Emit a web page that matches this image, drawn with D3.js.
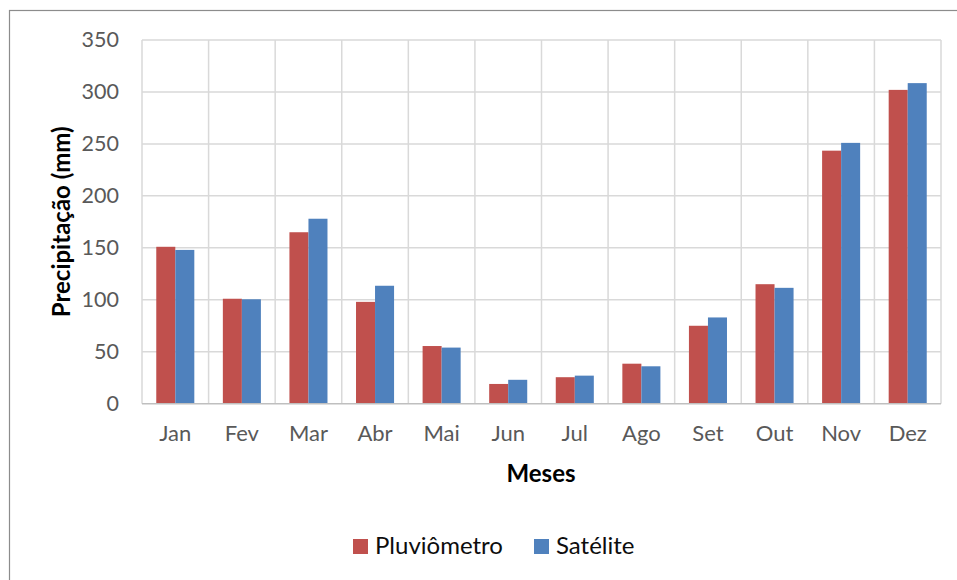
<!DOCTYPE html>
<html>
<head>
<meta charset="utf-8">
<script src="https://cdn.jsdelivr.net/npm/d3@7"></script>
<style>
  html, body { margin: 0; padding: 0; background: #fff; }
  svg { display: block; }
  text { font-family: Lato, "Open Sans", sans-serif; }
</style>
</head>
<body>
<svg id="chart" width="957" height="580"></svg>
<script>
// Monthly precipitation: rain gauge vs. satellite estimate
const months = ["Jan", "Fev", "Mar", "Abr", "Mai", "Jun", "Jul", "Ago", "Set", "Out", "Nov", "Dez"];
const pluviometro = [151, 101, 165, 98, 55.5, 19, 25.5, 38.5, 75, 115, 243.5, 302];
const satelite = [148, 100.5, 178, 113.5, 54, 23, 27, 36, 83, 111.5, 251, 308.5];
const seriesNames = ["Pluviômetro", "Satélite"];
const seriesColors = ["#C0504D", "#4F81BD"];
const yTicks = [0, 50, 100, 150, 200, 250, 300, 350];

const svg = d3.select("#chart");
const plot = { left: 142, right: 941, top: 40, bottom: 403.7 };

// chart area frame
svg.append("rect")
  .attr("x", 9.5).attr("y", 10.5)
  .attr("width", 980).attr("height", 620)
  .attr("fill", "#fff").attr("stroke", "#8c8c8c").attr("stroke-width", 1.2);

const x = d3.scaleBand().domain(months).range([plot.left, plot.right]).padding(0);
const y = d3.scaleLinear().domain([0, 350]).range([plot.bottom, plot.top]);

// bar width: two bars per month with a 150% gap
const barW = x.step() / 3.5;
const x1 = d3.scaleBand().domain(seriesNames).range([0, barW * 2]);

const g = svg.append("g");

// horizontal gridlines
g.selectAll("line.hgrid").data(yTicks.filter(d => d > 0)).join("line")
  .attr("class", "hgrid")
  .attr("x1", plot.left).attr("x2", plot.right)
  .attr("y1", d => y(d)).attr("y2", d => y(d))
  .attr("stroke", "#d9d9d9").attr("stroke-width", 1.5);

// vertical gridlines between months
const vLines = months.map(m => x(m)).concat([plot.right]);
g.selectAll("line.vgrid").data(vLines).join("line")
  .attr("class", "vgrid")
  .attr("x1", d => d).attr("x2", d => d)
  .attr("y1", plot.top).attr("y2", plot.bottom)
  .attr("stroke", "#d9d9d9").attr("stroke-width", 1.5);

// bars
const data = months.map((m, i) => ({ month: m, values: [pluviometro[i], satelite[i]] }));
const groups = g.selectAll("g.month").data(data).join("g")
  .attr("class", "month")
  .attr("transform", d => `translate(${x(d.month) + (x.step() - barW * 2) / 2},0)`);
groups.selectAll("rect").data(d => d.values.map((v, k) => ({ v, k }))).join("rect")
  .attr("x", d => x1(seriesNames[d.k]))
  .attr("width", x1.bandwidth())
  .attr("y", d => y(d.v))
  .attr("height", d => y(0) - y(d.v))
  .attr("fill", d => seriesColors[d.k]);

// baseline
g.append("line")
  .attr("x1", plot.left).attr("x2", plot.right)
  .attr("y1", y(0)).attr("y2", y(0))
  .attr("stroke", "#bfbfbf").attr("stroke-width", 1.5);

// y axis labels
const yAxis = d3.axisLeft(y).tickValues(yTicks).tickSize(0).tickPadding(23);
const ya = svg.append("g").attr("transform", `translate(${plot.left},0)`).call(yAxis);
ya.select(".domain").remove();
ya.selectAll("text")
  .attr("font-family", "Lato, sans-serif")
  .attr("font-size", 21.5).attr("fill", "#595959");

// x axis labels
const xAxis = d3.axisBottom(x).tickSize(0).tickPadding(22);
const xa = svg.append("g").attr("transform", `translate(0,${plot.bottom})`).call(xAxis);
xa.select(".domain").remove();
xa.selectAll("text")
  .attr("font-family", "Lato, sans-serif")
  .attr("font-size", 22).attr("fill", "#595959");

// axis titles
svg.append("text")
  .attr("transform", `translate(70,${(plot.top + plot.bottom) / 2}) rotate(-90)`)
  .attr("text-anchor", "middle")
  .attr("font-size", 24).attr("font-weight", "bold").attr("fill", "#000")
  .text("Precipitação (mm)");

svg.append("text")
  .attr("x", 541).attr("y", 482)
  .attr("text-anchor", "middle")
  .attr("font-size", 24).attr("font-weight", "bold").attr("fill", "#000")
  .text("Meses");

// legend
const legendItems = [
  { name: seriesNames[0], color: seriesColors[0], x: 353 },
  { name: seriesNames[1], color: seriesColors[1], x: 534 }
];
const leg = svg.append("g");
leg.selectAll("rect").data(legendItems).join("rect")
  .attr("x", d => d.x).attr("y", 539)
  .attr("width", 15).attr("height", 15)
  .attr("fill", d => d.color);
leg.selectAll("text").data(legendItems).join("text")
  .attr("x", d => d.x + 22).attr("y", 554)
  .attr("font-size", 24).attr("fill", "#0d0d0d")
  .text(d => d.name);
</script>
</body>
</html>
